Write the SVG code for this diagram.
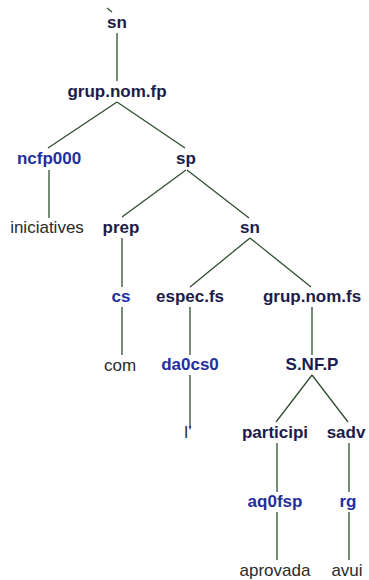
<svg xmlns="http://www.w3.org/2000/svg" width="369" height="580" viewBox="0 0 369 580">
<style>
text{font-family:"Liberation Sans",Arial,sans-serif;font-size:17px;text-anchor:middle}
.c{font-weight:bold;fill:#1c1c4c}
.t{font-weight:bold;fill:#1f2f9f}
.w{fill:#2a2a2a}
#edges line{stroke:#2f4f2f;stroke-width:1.3}
</style>
<rect width="369" height="580" fill="#fff"/>
<g id="edges">
<line x1="107" y1="8" x2="112" y2="12"/>
<line x1="117" y1="33" x2="117" y2="81"/>
<line x1="117" y1="102" x2="48" y2="148"/>
<line x1="117" y1="102" x2="185" y2="148"/>
<line x1="49" y1="170" x2="49" y2="218"/>
<line x1="186" y1="170" x2="122" y2="217"/>
<line x1="187" y1="170" x2="249" y2="218"/>
<line x1="122" y1="238" x2="122" y2="287"/>
<line x1="122" y1="307" x2="122" y2="355"/>
<line x1="250" y1="238" x2="190" y2="287"/>
<line x1="250" y1="238" x2="311" y2="287"/>
<line x1="190" y1="307" x2="190" y2="355"/>
<line x1="190" y1="375" x2="190" y2="428"/>
<line x1="312" y1="307" x2="312" y2="355"/>
<line x1="312" y1="375" x2="276" y2="422"/>
<line x1="312" y1="375" x2="348" y2="422"/>
<line x1="277" y1="443" x2="277" y2="492"/>
<line x1="349" y1="443" x2="349" y2="492"/>
<line x1="277" y1="512" x2="277" y2="560"/>
<line x1="349" y1="512" x2="349" y2="560"/>
</g>
<g id="n_sn"><text class="c" x="117" y="28">sn</text></g>
<g id="n_grupnomfp"><text class="c" x="117" y="97">grup.nom.fp</text></g>
<g id="n_ncfp000"><text class="t" x="49" y="164">ncfp000</text></g>
<g id="n_sp"><text class="c" x="186" y="164">sp</text></g>
<g id="n_iniciatives"><text class="w" x="47" y="233">iniciatives</text></g>
<g id="n_prep"><text class="c" x="121" y="233">prep</text></g>
<g id="n_sn2"><text class="c" x="250" y="233">sn</text></g>
<g id="n_cs"><text class="t" x="121" y="302">cs</text></g>
<g id="n_especfs"><text class="c" x="190" y="302">espec.fs</text></g>
<g id="n_grupnomfs"><text class="c" x="312" y="302">grup.nom.fs</text></g>
<g id="n_com"><text class="w" x="120" y="371">com</text></g>
<g id="n_da0cs0"><text class="t" x="190" y="370">da0cs0</text></g>
<g id="n_snfp"><text class="c" x="312" y="370">S.NF.P</text></g>
<g id="n_l"><text class="w" x="188" y="438">l’</text></g>
<g id="n_participi"><text class="c" x="275" y="438">participi</text></g>
<g id="n_sadv"><text class="c" x="346" y="438">sadv</text></g>
<g id="n_aq0fsp"><text class="t" x="275" y="507">aq0fsp</text></g>
<g id="n_rg"><text class="t" x="348" y="507">rg</text></g>
<g id="n_aprovada"><text class="w" x="275" y="576">aprovada</text></g>
<g id="n_avui"><text class="w" x="347" y="576">avui</text></g>
</svg>
